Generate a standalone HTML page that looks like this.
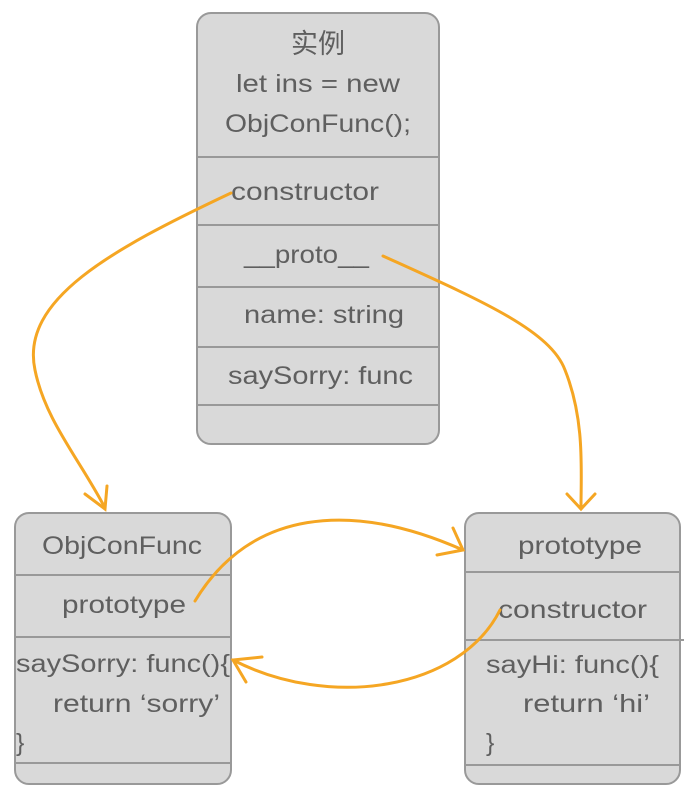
<!DOCTYPE html>
<html><head><meta charset="utf-8"><style>
html,body{margin:0;padding:0;background:#fff;}
svg{display:block;}
text{font-family:"Liberation Sans","Noto Sans CJK SC",sans-serif;font-size:25px;fill:#5f5f5f;}
</style></head><body>
<svg width="698" height="800" viewBox="0 0 698 800" xmlns="http://www.w3.org/2000/svg">
<g stroke="#999" stroke-width="2" fill="#d9d9d9">
<rect x="197" y="13" width="242" height="431" rx="14"/>
<rect x="15" y="513" width="216" height="271" rx="14"/>
<rect x="465" y="513" width="215" height="271" rx="14"/>
</g>
<g stroke="#999" stroke-width="2">
<line x1="197" y1="157" x2="439" y2="157"/>
<line x1="197" y1="225" x2="439" y2="225"/>
<line x1="197" y1="287" x2="439" y2="287"/>
<line x1="197" y1="347" x2="439" y2="347"/>
<line x1="197" y1="405" x2="439" y2="405"/>
<line x1="15" y1="575" x2="231" y2="575"/>
<line x1="15" y1="637" x2="231" y2="637"/>
<line x1="15" y1="763" x2="231" y2="763"/>
<line x1="465" y1="572" x2="680" y2="572"/>
<line x1="465" y1="640" x2="684" y2="640"/>
<line x1="465" y1="765" x2="680" y2="765"/>
</g>
<text x="318" y="53" text-anchor="middle" style="font-size:27px">实例</text>
<text x="236" y="92" textLength="164" lengthAdjust="spacingAndGlyphs">let ins = new</text>
<text x="225" y="132" textLength="186" lengthAdjust="spacingAndGlyphs">ObjConFunc();</text>
<text x="231" y="200" textLength="148" lengthAdjust="spacingAndGlyphs">constructor</text>
<text x="244" y="263" textLength="125" lengthAdjust="spacingAndGlyphs">__proto__</text>
<text x="244" y="323" textLength="160" lengthAdjust="spacingAndGlyphs">name: string</text>
<text x="228" y="384" textLength="185" lengthAdjust="spacingAndGlyphs">saySorry: func</text>
<text x="42" y="554" textLength="160" lengthAdjust="spacingAndGlyphs">ObjConFunc</text>
<text x="62" y="613" textLength="124" lengthAdjust="spacingAndGlyphs">prototype</text>
<text x="16" y="672" textLength="214" lengthAdjust="spacingAndGlyphs">saySorry: func(){</text>
<text x="53" y="712" textLength="167" lengthAdjust="spacingAndGlyphs">return ‘sorry’</text>
<text x="16" y="751">}</text>
<text x="518" y="554" textLength="124" lengthAdjust="spacingAndGlyphs">prototype</text>
<text x="498" y="618" textLength="149" lengthAdjust="spacingAndGlyphs">constructor</text>
<text x="486" y="673" textLength="173" lengthAdjust="spacingAndGlyphs">sayHi: func(){</text>
<text x="523" y="712" textLength="127" lengthAdjust="spacingAndGlyphs">return ‘hi’</text>
<text x="486" y="751">}</text>
<g stroke="#F5A623" stroke-width="3" fill="none" stroke-linecap="round">
<path d="M231,193 C110,250 20,300 35,370 C45,420 80,460 105,508"/>
<path d="M85,494 L105,509 L107,486"/>
<path d="M383,256 C480,300 550,330 565,370 C585,420 581,470 581,508"/>
<path d="M567,494 L581,509 L595,494"/>
<path d="M195,601 C250,510 350,500 463,550"/>
<path d="M453,528 L463,550 L437,555"/>
<path d="M500,610 C460,690 330,710 233,660"/>
<path d="M262,657 L233,660 L246,682"/>
</g>
</svg>
</body></html>
